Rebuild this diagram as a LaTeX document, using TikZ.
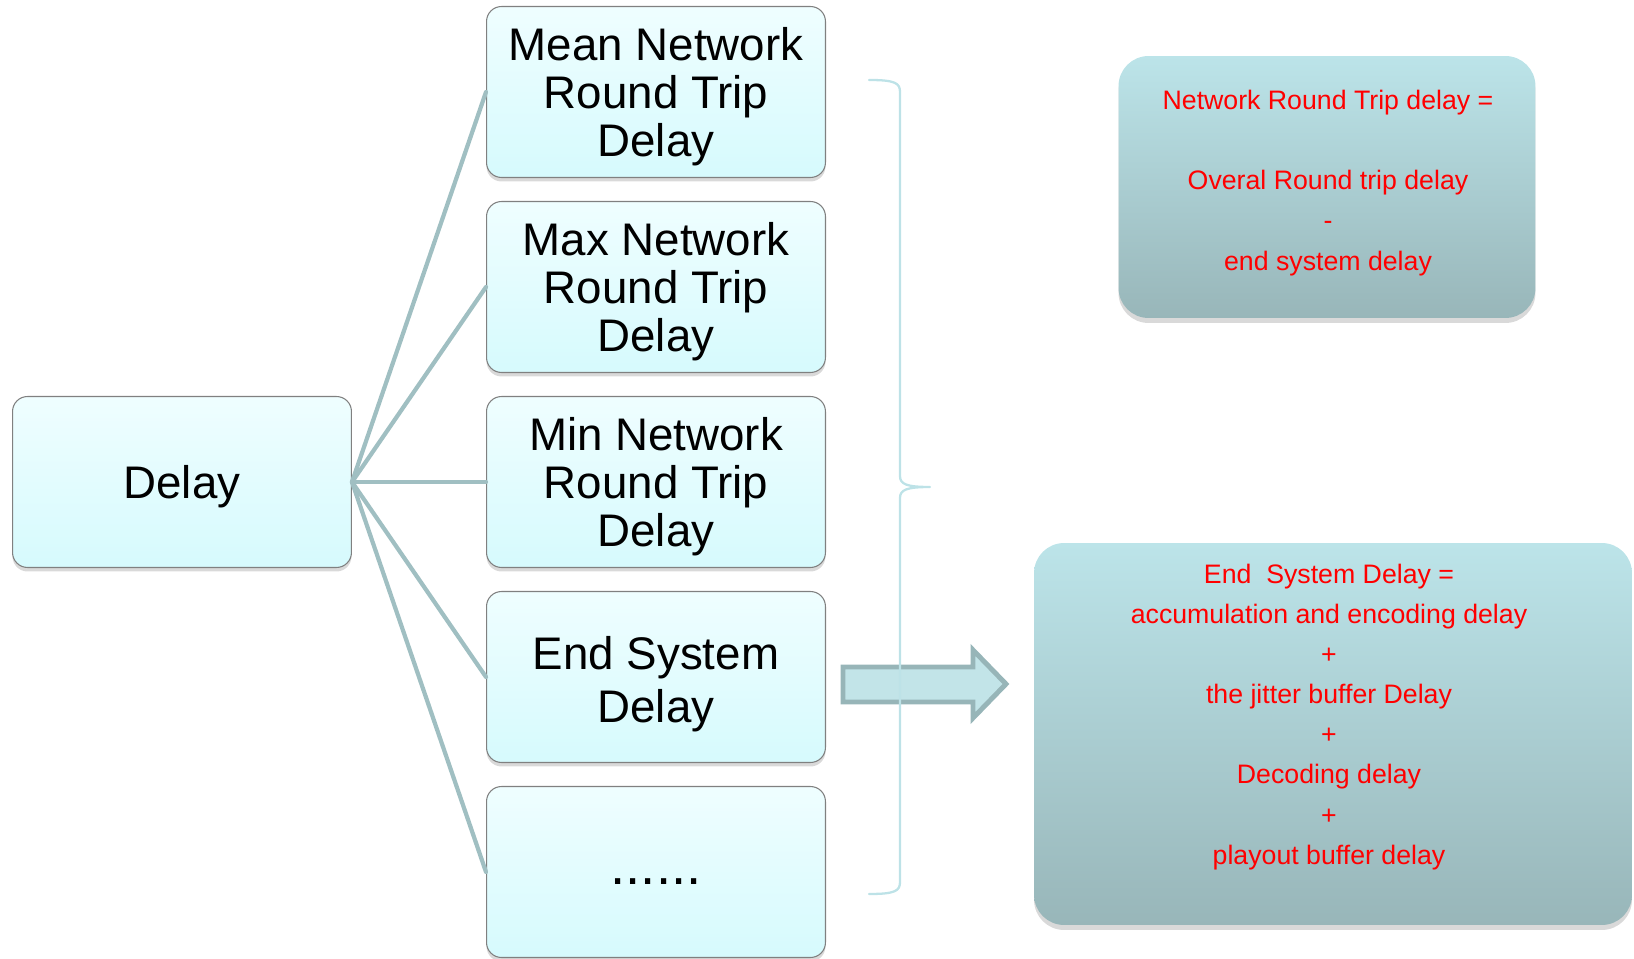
\documentclass[tikz,border=0pt]{standalone}
\usepackage{fontspec}
\setmainfont{Liberation Sans}
\usepackage{tikz}
\usetikzlibrary{shadows}
\definecolor{boxtop}{HTML}{EFFEFF}
\definecolor{boxbot}{HTML}{D6FAFD}
\definecolor{boxedge}{HTML}{808080}
\definecolor{fancol}{HTML}{A0BFC2}
\definecolor{bigtop}{HTML}{BCE4E9}
\definecolor{bigbot}{HTML}{98B6B9}
\definecolor{bracecol}{HTML}{BDE2E7}
\definecolor{arrowfill}{HTML}{C2E4E8}
\definecolor{arrowedge}{HTML}{97B5B8}
\newcommand{\toppad}[1]{\rule{0pt}{#1}}

\begin{document}
\begin{tikzpicture}[line cap=round,line join=round,x=0.02cm,y=-0.02cm,
  delaybox/.style={draw=boxedge,line width=0.6pt,rounded corners=0.3cm,
    top color=boxtop,bottom color=boxbot,minimum width=6.78cm,minimum height=3.42cm,
    align=center,font=\fontsize{26}{27.3}\selectfont,
    drop shadow={opacity=0.3,shadow xshift=0pt,shadow yshift=-0.08cm}},
  bigbox/.style={rounded corners=0.6cm,top color=bigtop,bottom color=bigbot,
    drop shadow={opacity=0.3,shadow xshift=0pt,shadow yshift=-0.1cm}},
  redtext/.style={text=red,align=center,font=\fontsize{15.2}{22.8}\selectfont},
  fan/.style={draw=fancol,line width=2.4pt}]
\useasboundingbox (0,0) rectangle (1634,959);
%\draw[help lines] (0,0) grid[step=100] (1634,959);
\node[delaybox] (delay) at (182,482) {\toppad{24pt}Delay};
\node[delaybox] (mean) at (656,92) {\toppad{24pt}Mean Network\\Round Trip\\Delay};
\node[delaybox] (max) at (656,287) {\toppad{24pt}Max Network\\Round Trip\\Delay};
\node[delaybox] (min) at (656,482) {\toppad{24pt}Min Network\\Round Trip\\Delay};
\node[delaybox] (endsys) at (656,677) {\toppad{27pt}End System\\[3pt]Delay};
\node[delaybox] (more) at (656,872) {\fontsize{31}{31}\selectfont\toppad{14pt}......};
\foreach \b in {mean,max,min,endsys,more}
  \draw[fan] (delay.east) -- (\b.west);
% boxes on the right
\node[bigbox,minimum width=8.34cm,minimum height=5.24cm] (nrt) at (1327,187) {};
\node[redtext] (nrttext) at (1328,183) {Network Round Trip delay =\\[22.8pt]Overal Round trip delay\\-\\end system delay};
\node[bigbox,minimum width=11.96cm,minimum height=7.64cm] (esd) at (1333,734) {};
\node[redtext] (esdtext) at (1329,717) {End\ \ System Delay =\\accumulation and encoding delay\\+\\the jitter buffer Delay\\+\\Decoding delay\\+\\playout buffer delay};
% block arrow
\filldraw[draw=arrowedge,fill=arrowfill,line width=2.8pt,line join=miter]
  (843,667) -- (973,667) -- (973,650) -- (1006,684) -- (973,718) -- (973,702) -- (843,702) -- cycle;
% brace
\draw[bracecol,line width=1.3pt] (869,80) .. controls (895,80) and (900,83) .. (900,92)
  -- (900,476) .. controls (900,484) and (906,487) .. (930,487)
  .. controls (906,487) and (900,490) .. (900,498)
  -- (900,882) .. controls (900,891) and (895,894) .. (869,894);
\end{tikzpicture}
\end{document}
